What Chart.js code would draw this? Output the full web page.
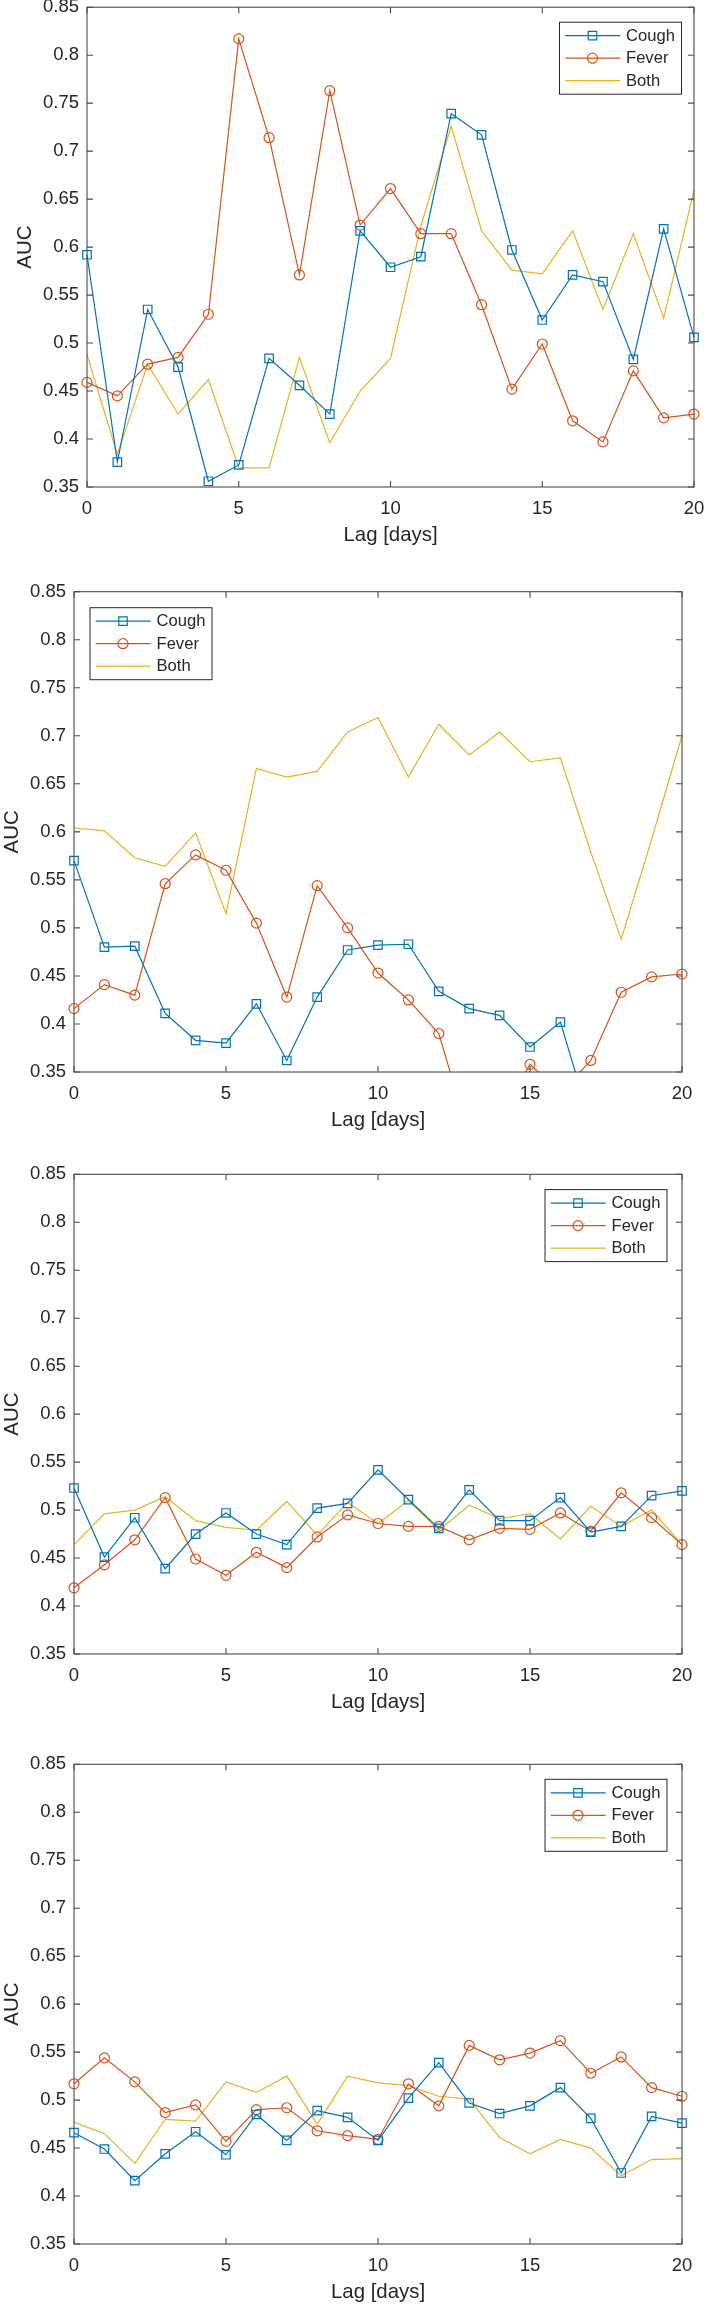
<!DOCTYPE html>
<html><head><meta charset="utf-8">
<script src="https://cdn.jsdelivr.net/npm/chart.js@4.4.1/dist/chart.umd.min.js"></script>
<style>
html,body{margin:0;padding:0;background:#fff;}
body{width:708px;height:2310px;position:relative;overflow:hidden;}
canvas{position:absolute;left:0;}
</style></head><body>
<canvas id="c1"></canvas>
<canvas id="c2"></canvas>
<canvas id="c3"></canvas>
<canvas id="c4"></canvas>
<script>
// ---------- data ----------
const lags = [0,1,2,3,4,5,6,7,8,9,10,11,12,13,14,15,16,17,18,19,20];
const xTicks = [0,5,10,15,20];
const xTickLabels = ['0','5','10','15','20'];
const yTicks = [0.35,0.4,0.45,0.5,0.55,0.6,0.65,0.7,0.75,0.8,0.85];
const yTickLabels = ['0.35','0.4','0.45','0.5','0.55','0.6','0.65','0.7','0.75','0.8','0.85'];
const seriesNames = ['Cough','Fever','Both'];
const xTitle = 'Lag [days]';
const yTitle = 'AUC';

const p1Cough = [0.592,0.376,0.535,0.475,0.356,0.373,0.484,0.456,0.426,0.617,0.579,0.590,0.739,0.717,0.597,0.524,0.571,0.564,0.483,0.619,0.506];
const p1Fever = [0.459,0.445,0.478,0.485,0.530,0.817,0.714,0.571,0.763,0.623,0.661,0.614,0.614,0.540,0.452,0.499,0.419,0.397,0.471,0.422,0.426];
const p1Both  = [0.488,0.384,0.478,0.426,0.462,0.370,0.370,0.485,0.396,0.450,0.484,0.622,0.726,0.617,0.576,0.572,0.617,0.535,0.614,0.526,0.659];

const p2Cough = [0.570,0.480,0.481,0.411,0.383,0.380,0.421,0.362,0.428,0.477,0.482,0.483,0.434,0.416,0.409,0.376,0.402,0.296,0.310,0.320,0.330];
const p2Fever = [0.416,0.441,0.430,0.546,0.576,0.560,0.505,0.428,0.544,0.500,0.453,0.425,0.390,0.283,0.300,0.358,0.328,0.362,0.433,0.449,0.452];
const p2Both  = [0.604,0.601,0.573,0.564,0.599,0.515,0.666,0.657,0.663,0.704,0.719,0.657,0.712,0.680,0.704,0.673,0.677,0.579,0.488,0.592,0.700];

const p3Cough = [0.523,0.451,0.492,0.439,0.475,0.497,0.475,0.464,0.502,0.507,0.542,0.511,0.481,0.521,0.489,0.489,0.513,0.477,0.483,0.515,0.520];
const p3Fever = [0.419,0.443,0.469,0.513,0.449,0.432,0.456,0.440,0.472,0.495,0.486,0.483,0.483,0.469,0.481,0.480,0.497,0.478,0.518,0.492,0.464];
const p3Both  = [0.464,0.496,0.500,0.514,0.489,0.482,0.479,0.509,0.474,0.508,0.486,0.510,0.479,0.505,0.491,0.496,0.470,0.504,0.483,0.500,0.464];

const p4Cough = [0.466,0.449,0.416,0.444,0.467,0.443,0.485,0.458,0.489,0.482,0.458,0.502,0.539,0.497,0.486,0.494,0.513,0.481,0.424,0.483,0.476];
const p4Fever = [0.517,0.544,0.519,0.487,0.495,0.457,0.490,0.492,0.468,0.463,0.459,0.517,0.494,0.557,0.542,0.549,0.562,0.528,0.545,0.513,0.504];
const p4Both  = [0.477,0.465,0.434,0.480,0.478,0.519,0.508,0.525,0.475,0.525,0.518,0.515,0.504,0.501,0.461,0.444,0.459,0.450,0.421,0.438,0.439];

// ---------- style ----------
const FONT = "'Liberation Sans', Arial, Helvetica, sans-serif";
const TXT = '#262626';
const AXC = '#4a4a4a';
const COLORS = ['#0072BD','#D95319','#EDB120'];
const STYLES = ['rect','circle',false];
const RADII = [6,5,0];
const PLOT_H = 480;
const XAXIS_H = 66;
const TICK_LEN = 6;

const panels = [
  {id:'c1', top:0,    padTop:7,    left:87, right:694, legend:{side:'right', gx:12.5, gy:15}, yTitlePad:12.8, series:[p1Cough,p1Fever,p1Both]},
  {id:'c2', top:570,  padTop:21.7, left:74, right:682, legend:{side:'left',  gx:16,   gy:16}, yTitlePad:0.3,  series:[p2Cough,p2Fever,p2Both]},
  {id:'c3', top:1150, padTop:24.3, left:74, right:682, legend:{side:'right', gx:15,   gy:15.3}, yTitlePad:0.3, series:[p3Cough,p3Fever,p3Both]},
  {id:'c4', top:1740, padTop:24.3, left:74, right:682, legend:{side:'right', gx:15,   gy:15}, yTitlePad:0.3,  series:[p4Cough,p4Fever,p4Both]}
];

const axesBox = {
  id:'axesBox',
  afterDatasetsDraw(chart){
    const {ctx, chartArea:a, scales:{x,y}} = chart;
    ctx.save();
    ctx.strokeStyle = AXC; ctx.lineWidth = 1.1;
    ctx.strokeRect(a.left, a.top, a.right-a.left, a.bottom-a.top);
    ctx.beginPath();
    x.ticks.forEach(t=>{
      const px = x.getPixelForValue(t.value);
      ctx.moveTo(px, a.bottom); ctx.lineTo(px, a.bottom-TICK_LEN);
      ctx.moveTo(px, a.top); ctx.lineTo(px, a.top+TICK_LEN);
    });
    y.ticks.forEach(t=>{
      const py = y.getPixelForValue(t.value);
      ctx.moveTo(a.left, py); ctx.lineTo(a.left+TICK_LEN, py);
      ctx.moveTo(a.right, py); ctx.lineTo(a.right-TICK_LEN, py);
    });
    ctx.stroke();
    ctx.restore();
  }
};

const boxLegend = {
  id:'boxLegend',
  afterDraw(chart){
    const o = chart.options.plugins.boxLegend;
    if(!o) return;
    const {ctx, chartArea:a} = chart;
    const w = 122, h = 72;
    const bx = o.side === 'right' ? a.right - o.gx - w : a.left + o.gx;
    const by = a.top + o.gy;
    ctx.save();
    ctx.fillStyle = '#fff';
    ctx.fillRect(bx, by, w, h);
    ctx.strokeStyle = TXT; ctx.lineWidth = 1;
    ctx.strokeRect(bx, by, w, h);
    const rows = [13.5, 36, 58.5];
    chart.data.datasets.forEach((ds, i)=>{
      const yy = by + rows[i];
      ctx.strokeStyle = ds.borderColor; ctx.lineWidth = ds.borderWidth;
      ctx.beginPath(); ctx.moveTo(bx+5.7, yy); ctx.lineTo(bx+60.7, yy); ctx.stroke();
      if(ds.pointStyle){
        ctx.fillStyle = 'rgba(0,0,0,0)';
        ctx.strokeStyle = ds.pointBorderColor;
        Chart.helpers.drawPoint(ctx, {pointStyle:ds.pointStyle, radius:ds.pointRadius, borderWidth:ds.pointBorderWidth, rotation:0}, bx+33, yy);
      }
      ctx.fillStyle = TXT;
      ctx.font = '16.6px ' + FONT;
      ctx.textBaseline = 'middle'; ctx.textAlign = 'left';
      ctx.fillText(ds.label, bx+66.5, yy+0.5);
    });
    ctx.restore();
  }
};

function makeChart(p){
  const cv = document.getElementById(p.id);
  const H = Math.round(p.padTop + PLOT_H + XAXIS_H);
  cv.width = 708; cv.height = H;
  cv.style.width = '708px'; cv.style.height = H + 'px';
  cv.style.top = p.top + 'px';
  const datasets = p.series.map((vals, i)=>({
    label: seriesNames[i],
    data: lags.map((l, k)=>({x:l, y:vals[k]})),
    borderColor: COLORS[i],
    borderWidth: 1.2,
    pointStyle: STYLES[i],
    pointRadius: RADII[i],
    pointBorderColor: COLORS[i],
    pointBackgroundColor: 'rgba(0,0,0,0)',
    pointBorderWidth: 1.2,
    tension: 0,
    fill: false,
    clip: {left: 10, right: 10, top: 10, bottom: 0}
  }));
  new Chart(cv, {
    type:'line',
    data:{datasets},
    options:{
      responsive:false, animation:false, devicePixelRatio:1, events:[],
      layout:{padding:{top:p.padTop, right:708-p.right, left:0, bottom:0}},
      plugins:{legend:{display:false}, tooltip:{enabled:false}, boxLegend:p.legend},
      scales:{
        x:{
          type:'linear', min:0, max:20,
          afterBuildTicks: s=>{ s.ticks = xTicks.map(v=>({value:v})); },
          ticks:{font:{family:FONT, size:18.5, lineHeight:1}, color:TXT, padding:13, maxRotation:0, autoSkip:false,
                 callback:(v)=>{ const k = xTicks.indexOf(v); return k>=0 ? xTickLabels[k] : ''; }},
          grid:{display:false, drawTicks:false},
          border:{display:false},
          title:{display:true, text:xTitle, color:TXT, font:{family:FONT, size:20.4, lineHeight:1.2}, padding:{top:0, bottom:5.3}},
          afterFit: s=>{ s.height = XAXIS_H; s.paddingLeft = 0; s.paddingRight = 0; }
        },
        y:{
          type:'linear', min:0.35, max:0.85,
          afterBuildTicks: s=>{ s.ticks = yTicks.map(v=>({value:v})); },
          ticks:{font:{family:FONT, size:18.5, lineHeight:1}, color:TXT, padding:8, autoSkip:false,
                 callback:(v)=>{ const k = yTicks.findIndex(t=>Math.abs(t-v)<1e-9); return k>=0 ? yTickLabels[k] : ''; }},
          grid:{display:false, drawTicks:false},
          border:{display:false},
          title:{display:true, text:yTitle, color:TXT, font:{family:FONT, size:20.4, lineHeight:1.2}, padding:{top:p.yTitlePad, bottom:0}},
          afterFit: s=>{ s.width = p.left; s.paddingTop = 0; s.paddingBottom = 0; }
        }
      }
    },
    plugins:[axesBox, boxLegend]
  });
}
panels.forEach(makeChart);
</script>
</body></html>
